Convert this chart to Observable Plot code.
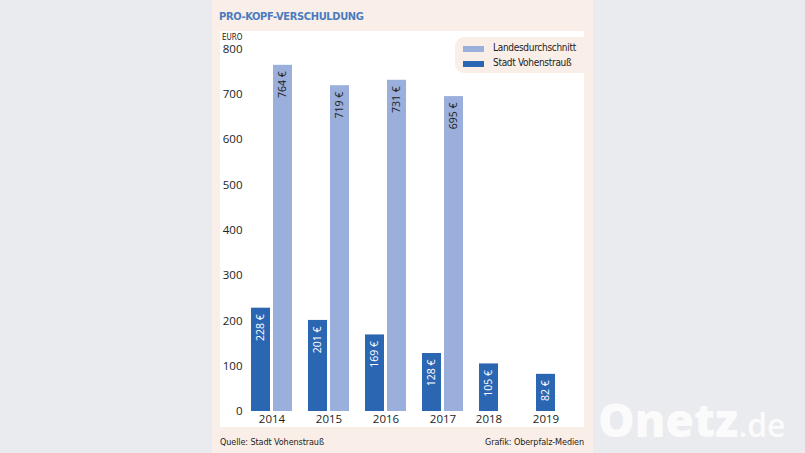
<!DOCTYPE html>
<html>
<head>
<meta charset="utf-8">
<script src="https://cdn.jsdelivr.net/npm/d3@7"></script>
<script src="https://cdn.jsdelivr.net/npm/@observablehq/plot@0.6"></script>
<style>
  html, body { margin: 0; padding: 0; }
  body { width: 805px; height: 453px; position: relative; overflow: hidden; background: #e9ebef; font-family: "DejaVu Sans Condensed", "Liberation Sans Narrow", sans-serif; }
  .abs { position: absolute; }
  .cond { font-stretch: condensed; }
  #panel { left: 212px; top: 0; width: 381px; height: 453px; background: #f9efe8; }
  #plotbox { left: 220px; top: 31px; width: 364px; height: 396px; background: #ffffff; }
  #title { left: 219px; top: 10px; font-weight: bold; font-size: 11px; color: #4b7cbf; letter-spacing: -0.35px; }
  #unit { left: 222px; top: 33px; font-size: 8px; color: #222; }
  #legend { left: 455px; top: 37px; width: 129px; height: 36px; background: #f9efe8; border-radius: 9px 0 0 9px; }
  .lgitem { position: absolute; left: 8px; height: 14px; font-size: 10px; letter-spacing: -0.3px; color: #222; white-space: nowrap; }
  .sw { position: absolute; left: 0; top: 4px; width: 21px; height: 6px; }
  .lgtext { position: absolute; left: 30px; top: 0px; }
  #src { left: 220px; top: 437px; font-size: 9px; letter-spacing: -0.1px; color: #222; }
  #credit { right: 221px; top: 437px; font-size: 9px; letter-spacing: -0.1px; color: #222; }
  #wm { left: 598px; top: 388px; color: rgba(255,255,255,0.85); font-family: "Open Sans", "Lato", sans-serif; white-space: nowrap; }
  #wm .big { font-size: 46px; font-weight: 800; letter-spacing: 0px; }
  #wm .small { font-size: 32px; font-weight: 600; }
  svg, svg text { font-family: "Open Sans", "Noto Sans", sans-serif; font-stretch: normal; }
</style>
</head>
<body>
<div id="panel" class="abs"></div>
<div id="plotbox" class="abs"></div>
<div id="title" class="abs cond"></div>
<div id="unit" class="abs cond"></div>
<div id="legend" class="abs cond"></div>
<div id="src" class="abs cond"></div>
<div id="credit" class="abs cond"></div>
<div id="wm" class="abs"><span class="big">Onetz</span><span class="small">.de</span></div>
<script>
// ---- Data ----
const years = ["2014", "2015", "2016", "2017", "2018", "2019"];
const seriesNames = ["Stadt Vohenstrauß", "Landesdurchschnitt"];
const stadtValues = [228, 201, 169, 128, 105, 82];
const landesValues = [764, 719, 731, 695, null, null];
const yTicks = [0, 100, 200, 300, 400, 500, 600, 700, 800];
const legendOrder = ["Landesdurchschnitt", "Stadt Vohenstrauß"];
const colors = ["#2b66b3", "#9aafdb"];
const titleText = "PRO-KOPF-VERSCHULDUNG";
const unitText = "EURO";
const sourceText = "Quelle: Stadt Vohenstrauß";
const creditText = "Grafik: Oberpfalz-Medien";

// ---- Table ----
const rows = [];
years.forEach((yr, i) => {
  rows.push({year: yr, series: seriesNames[0], value: stadtValues[i]});
  if (landesValues[i] != null) rows.push({year: yr, series: seriesNames[1], value: landesValues[i]});
});
const yearLabels = years.map((yr, i) => ({year: yr, both: landesValues[i] != null, series: seriesNames[0]}));

// ---- Texts ----
document.getElementById("title").textContent = titleText;
document.getElementById("unit").textContent = unitText;
document.getElementById("src").textContent = sourceText;
document.getElementById("credit").textContent = creditText;
const colorOf = s => colors[seriesNames.indexOf(s)];
const lg = document.getElementById("legend");
legendOrder.forEach((s, i) => {
  const it = document.createElement("div");
  it.className = "lgitem";
  it.style.top = (5 + i * 15) + "px";
  const sw = document.createElement("div");
  sw.className = "sw";
  sw.style.background = colorOf(s);
  const tx = document.createElement("div");
  tx.className = "lgtext";
  tx.textContent = s;
  it.appendChild(sw); it.appendChild(tx);
  lg.appendChild(it);
});

// ---- Plot ----
const chart = Plot.plot({
  width: 364,
  height: 396,
  marginLeft: 30,
  marginRight: 5,
  marginTop: 17.5,
  marginBottom: 16,
  style: {background: "transparent", fontSize: "11.5px", color: "#222", fontFamily: "Open Sans, Noto Sans, sans-serif"},
  fx: {domain: years, paddingInner: 0.245, paddingOuter: 0, axis: null},
  x: {domain: seriesNames, paddingInner: 0.13, paddingOuter: 0, axis: null},
  y: {domain: [0, 800], axis: null},
  color: {domain: seriesNames, range: colors},
  marks: [
    Plot.barY(rows, {fx: "year", x: "series", y: "value", fill: "series"}),
    Plot.axisY({ticks: yTicks, tickSize: 0, tickPadding: 8, label: null, fontSize: 11.5}),
    Plot.text(rows, {
      fx: "year", x: "series", y: "value",
      text: d => d.value + " €",
      rotate: -90, textAnchor: "end", lineAnchor: "middle", dy: 6,
      fontSize: 10.5,
      fill: d => d.series === seriesNames[0] ? "#ffffff" : "#222222"
    }),
    Plot.text(yearLabels.filter(d => d.both), {
      fx: "year", text: "year", frameAnchor: "bottom", dy: 8, lineAnchor: "middle", fontSize: 11.5, fill: "#222"
    }),
    Plot.text(yearLabels.filter(d => !d.both), {
      fx: "year", x: "series", text: "year", frameAnchor: "bottom", dy: 8, lineAnchor: "middle", fontSize: 11.5, fill: "#222"
    })
  ]
});
chart.style.position = "absolute";
chart.style.left = "220px";
chart.style.top = "31px";
chart.style.overflow = "visible";
document.body.appendChild(chart);
</script>
</body>
</html>
